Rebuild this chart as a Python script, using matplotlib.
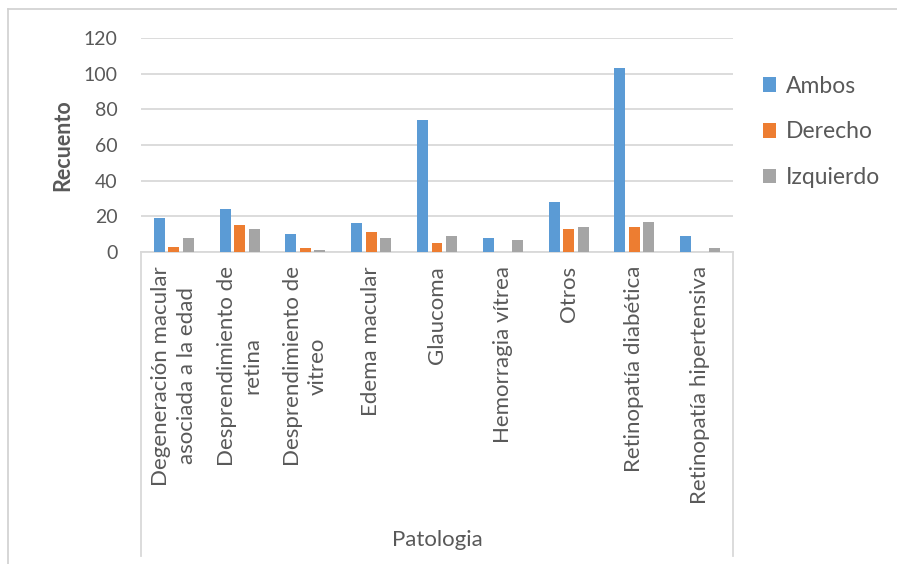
import numpy as np
import matplotlib
matplotlib.use("Agg")
import matplotlib.pyplot as plt
from matplotlib.lines import Line2D
from matplotlib.patches import Patch

categorias = [
    "Degeneración macular\nasociada a la edad",
    "Desprendimiento de\nretina",
    "Desprendimiento de\nvitreo",
    "Edema macular",
    "Glaucoma",
    "Hemorragia vítrea",
    "Otros",
    "Retinopatía diabética",
    "Retinopatía hipertensiva",
]
ambos = [19, 24, 10, 16, 74, 8, 28, 103, 9]
derecho = [3, 15, 2, 11, 5, 0, 13, 14, 0]
izquierdo = [8, 13, 1, 8, 9, 7, 14, 17, 2]
series = ["Ambos", "Derecho", "Izquierdo"]
colores = ["#5B9BD5", "#ED7D31", "#A5A5A5"]
y_ticks = [0, 20, 40, 60, 80, 100, 120]

TXT = "#595959"
GRID = "#D9D9D9"
plt.rcParams["font.family"] = ["Lato", "DejaVu Sans"]

W, H = 897, 564
fig = plt.figure(figsize=(W / 100, H / 100), dpi=100)


def fx(px):
    return px / W


def fy(py):
    return 1 - py / H


ax = fig.add_axes([fx(141), fy(252), fx(733) - fx(141), fy(38) - fy(252)])

x = np.arange(len(categorias))
ancho = 0.167
paso = 0.22
for i, (vals, nombre, c) in enumerate(zip([ambos, derecho, izquierdo], series, colores)):
    ax.bar(x + (i - 1) * paso, vals, width=ancho, color=c, label=nombre, zorder=3)

ax.set_xlim(-0.5, len(categorias) - 0.5)
ax.set_ylim(0, 120)
ax.set_yticks(y_ticks)
ax.grid(axis="y", color=GRID, linewidth=1.3, zorder=0)
for s in ["top", "right", "left"]:
    ax.spines[s].set_visible(False)
ax.spines["bottom"].set_color(GRID)
ax.spines["bottom"].set_linewidth(1.3)
ax.tick_params(axis="y", length=0, pad=17, labelsize=14, labelcolor=TXT)
ax.tick_params(axis="x", length=0)
ax.set_xticks([])

# etiquetas de categoria giradas bajo el eje
for xi, etiqueta in zip(x, categorias):
    ax.annotate(etiqueta, xy=(xi, 0), xycoords=("data", "axes fraction"),
                xytext=(0, -14), textcoords="offset pixels",
                rotation=90, ha="center", va="top", multialignment="center",
                linespacing=1.35, fontsize=16, color=TXT)

ax.set_ylabel("Recuento", fontsize=15.5, fontweight="bold", color=TXT, labelpad=7)

# recuadro del eje de categorias
fig.add_artist(Line2D([fx(141), fx(141)], [fy(252), fy(556)], color=GRID, linewidth=1.3))
fig.add_artist(Line2D([fx(733), fx(733)], [fy(252), fy(556)], color=GRID, linewidth=1.3))
fig.text(fx(437), fy(540), "Patologia", ha="center", va="center", fontsize=16, color=TXT)

# borde del grafico
fig.add_artist(Line2D([fx(8), fx(8)], [fy(9), 0], color="#D0D0D0", linewidth=1.2))
fig.add_artist(Line2D([fx(8), 1], [fy(9), fy(9)], color="#D0D0D0", linewidth=1.2))

handles = [Patch(facecolor=c, edgecolor="none") for c in colores]
fig.legend(handles, series, loc="upper left", bbox_to_anchor=(fx(742), fy(55)),
           frameon=False, fontsize=16.5, labelcolor=TXT, handlelength=0.6,
           handleheight=0.6, handletextpad=0.4, labelspacing=1.08)

fig.savefig("out.png", dpi=100)
